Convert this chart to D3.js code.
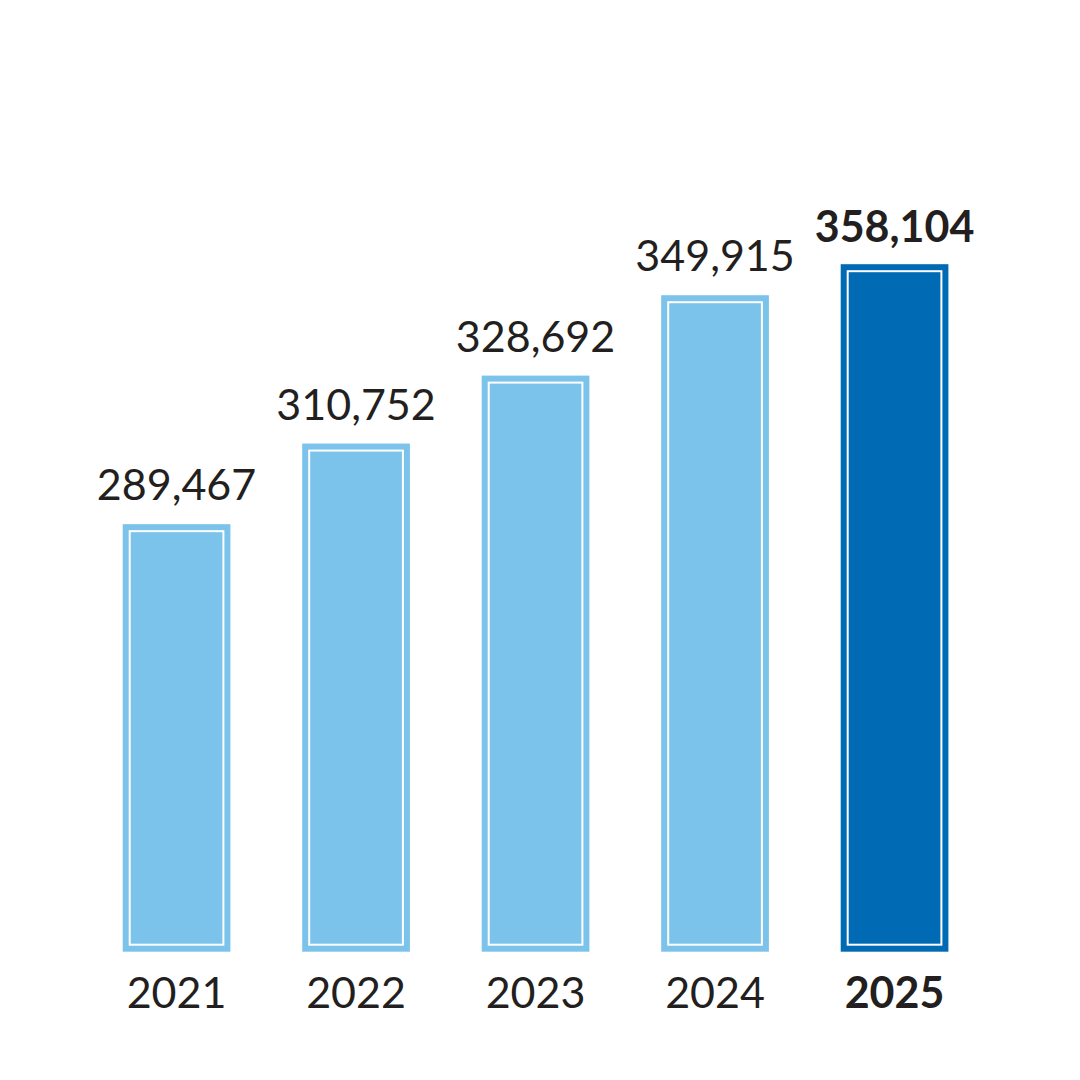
<!DOCTYPE html>
<html>
<head>
<meta charset="utf-8">
<script src="https://cdn.jsdelivr.net/npm/d3@7"></script>
<style>
  html, body { margin: 0; padding: 0; background: #ffffff; }
  svg { display: block; }
</style>
</head>
<body>
<svg id="chart" width="1080" height="1080"></svg>
<script>
const years = ["2021", "2022", "2023", "2024", "2025"];
const values = [289467, 310752, 328692, 349915, 358104];
const highlight = ["2025"];

const svg = d3.select("#chart");
const baseY = 951.7;

const x = d3.scaleBand()
  .domain(years)
  .range([86.8, 984.3])
  .paddingInner(0.4)
  .paddingOuter(0.2);

const y = d3.scaleLinear()
  .domain([176600, 358104])
  .range([baseY, 264.2]);

const fmt = d3.format(",");
const light = "#7bc3ea";
const dark = "#006ab4";
const textColor = "#231f20";

const data = years.map((yr, i) => ({ year: yr, value: values[i], hi: highlight.includes(yr) }));

const g = svg.append("g");

// outer bars
g.selectAll("rect.bar")
  .data(data)
  .join("rect")
  .attr("class", "bar")
  .attr("x", d => x(d.year))
  .attr("y", d => y(d.value))
  .attr("width", x.bandwidth())
  .attr("height", d => baseY - y(d.value))
  .attr("fill", d => d.hi ? dark : light);

// inner white outline
const inset = 7;
g.selectAll("rect.inner")
  .data(data)
  .join("rect")
  .attr("class", "inner")
  .attr("x", d => x(d.year) + inset)
  .attr("y", d => y(d.value) + inset)
  .attr("width", x.bandwidth() - 2 * inset)
  .attr("height", d => baseY - y(d.value) - 2 * inset)
  .attr("fill", "none")
  .attr("stroke", "#ffffff")
  .attr("stroke-width", 2);

// value labels
g.selectAll("text.val")
  .data(data)
  .join("text")
  .attr("class", "val")
  .attr("x", d => x(d.year) + x.bandwidth() / 2)
  .attr("y", d => y(d.value) - (d.hi ? 22 : 24))
  .attr("text-anchor", "middle")
  .attr("font-family", "Lato, 'Open Sans', sans-serif")
  .attr("font-size", 43)
  .attr("font-weight", d => d.hi ? 700 : 400)
  .attr("fill", textColor)
  .text(d => fmt(d.value));

// x axis labels
const xAxis = d3.axisBottom(x).tickSize(0).tickPadding(0);
const ax = svg.append("g")
  .attr("transform", `translate(0, ${baseY})`)
  .call(xAxis);
ax.select(".domain").remove();
ax.selectAll(".tick text")
  .attr("dy", null)
  .attr("y", 56)
  .attr("font-family", "Lato, 'Open Sans', sans-serif")
  .attr("font-size", 43)
  .attr("font-weight", d => highlight.includes(d) ? 700 : 400)
  .attr("fill", textColor);
</script>
</body>
</html>
